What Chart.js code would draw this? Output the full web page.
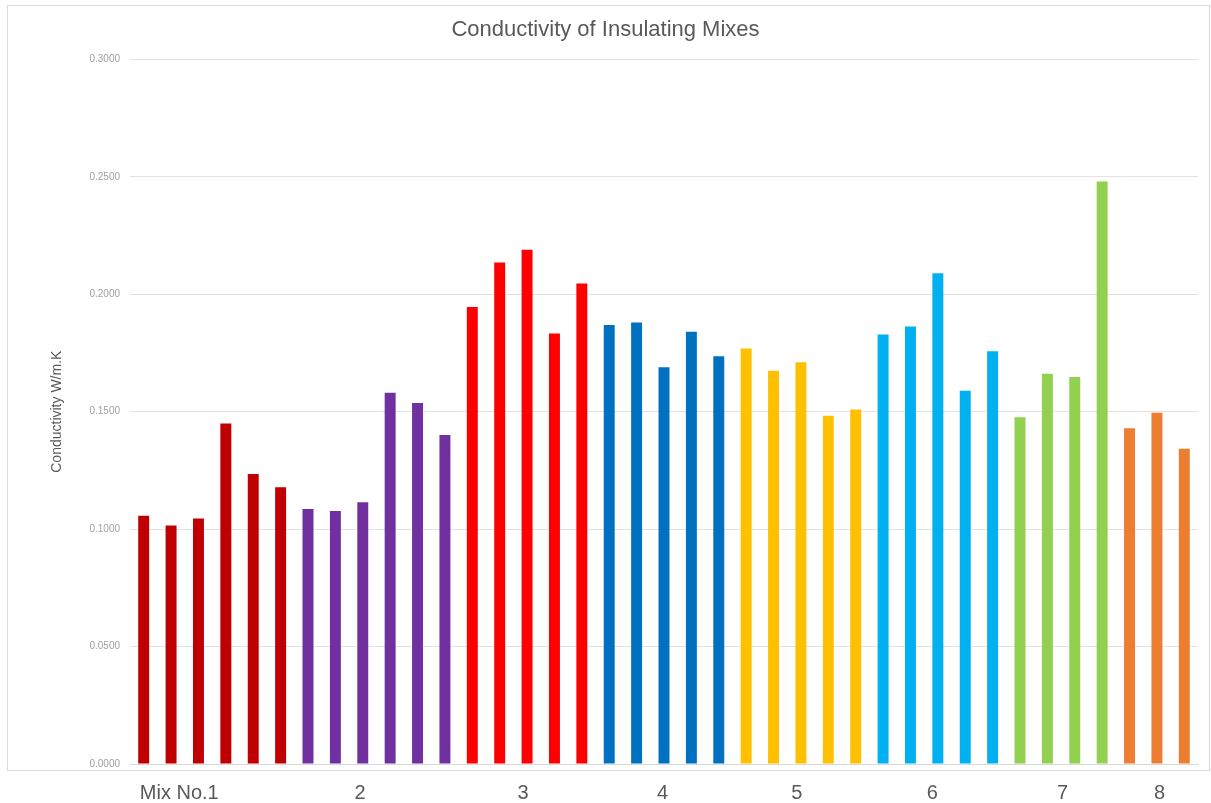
<!DOCTYPE html>
<html>
<head>
<meta charset="utf-8">
<script src="https://cdn.jsdelivr.net/npm/chart.js@4/dist/chart.umd.min.js"></script>
<style>
  html, body { margin: 0; padding: 0; background: #ffffff; }
  #wrap { position: relative; width: 1211px; height: 803px; }
  #frame { position: absolute; left: 7px; top: 5px; width: 1201px; height: 764px; border: 1px solid #d9d9d9; }
  #c { position: absolute; left: 0; top: 0; }
</style>
</head>
<body>
<div id="wrap">
  <div id="frame"></div>
  <canvas id="c" width="1211" height="803"></canvas>
</div>
<script>
// ---- data ----
const groupLabels = ["Mix No.1", "2", "3", "4", "5", "6", "7", "8"];
const mix1 = [0.1057, 0.1015, 0.1045, 0.1450, 0.1235, 0.1178];
const mix2 = [0.1086, 0.1077, 0.1114, 0.1581, 0.1537, 0.1401];
const mix3 = [0.1946, 0.2135, 0.2190, 0.1833, 0.2046];
const mix4 = [0.1869, 0.1880, 0.1689, 0.1840, 0.1736];
const mix5 = [0.1769, 0.1674, 0.1711, 0.1483, 0.1509];
const mix6 = [0.1829, 0.1863, 0.2090, 0.1589, 0.1757];
const mix7 = [0.1476, 0.1662, 0.1648, 0.2480];
const mix8 = [0.1430, 0.1496, 0.1342];
const yTicks = [0, 0.05, 0.10, 0.15, 0.20, 0.25, 0.30];

// ---- styling ----
const groupColors = ["#C00000", "#7030A0", "#FF0000", "#0070C0", "#FFC000", "#00B0F0", "#92D050", "#ED7D31"];
const labelPositions = [1.3, 7.9, 13.85, 18.95, 23.85, 28.8, 33.55, 37.1]; // in bar-slot units

const groups = [mix1, mix2, mix3, mix4, mix5, mix6, mix7, mix8];
const values = [];
const colors = [];
const cats = [];
groups.forEach((g, gi) => {
  g.forEach((v, i) => {
    values.push(v);
    colors.push(groupColors[gi]);
    cats.push(groupLabels[gi] + "-" + (i + 1));
  });
});
const n = values.length;

const FONT = "'Liberation Sans', Arial, sans-serif";

new Chart(document.getElementById('c'), {
  type: 'bar',
  data: {
    labels: cats,
    datasets: [{
      data: values,
      backgroundColor: colors,
      borderWidth: 0,
      barPercentage: 0.4,
      categoryPercentage: 1.0
    }]
  },
  options: {
    responsive: false,
    animation: false,
    layout: { padding: { left: 0, right: 0, top: 0, bottom: 0 } },
    plugins: {
      legend: { display: false },
      tooltip: { enabled: false },
      title: {
        display: true,
        text: "Conductivity of Insulating Mixes",
        color: "#595959",
        font: { family: FONT, size: 22, weight: 'normal' },
        padding: { top: 17, bottom: 16 }
      }
    },
    scales: {
      x: {
        type: 'category',
        display: false,
        offset: true,
        grid: { display: false }
      },
      x2: {
        type: 'linear',
        position: 'bottom',
        min: -0.5,
        max: n - 0.5,
        offset: false,
        grid: { display: false, drawTicks: false, offset: false },
        border: { display: true, color: "#d9d9d9", width: 1 },
        afterBuildTicks: (scale) => {
          scale.ticks = labelPositions.map(v => ({ value: v }));
        },
        afterFit: (scale) => { scale.height = 39; },
        ticks: {
          autoSkip: false,
          maxRotation: 0,
          padding: 17,
          color: "#595959",
          font: { family: FONT, size: 20 },
          callback: (value, index) => groupLabels[index]
        }
      },
      y: {
        min: 0,
        max: 0.3,
        afterBuildTicks: (scale) => {
          scale.ticks = yTicks.map(v => ({ value: v }));
        },
        afterFit: (scale) => { scale.width = 130; },
        grid: { color: "#e3e3e3", drawTicks: false, lineWidth: 1 },
        border: { display: false },
        ticks: {
          padding: 10,
          color: "#a0a0a0",
          font: { family: FONT, size: 10 },
          callback: (v) => Number(v).toFixed(4)
        },
        title: {
          display: true,
          text: "Conductivity W/m.K",
          color: "#595959",
          font: { family: FONT, size: 14 },
          padding: { top: 49, bottom: 0 }
        }
      },
      yRight: {
        type: 'linear',
        position: 'right',
        min: 0,
        max: 0.3,
        grid: { display: false, drawTicks: false },
        border: { display: false },
        ticks: { display: false },
        afterFit: (scale) => { scale.width = 13; }
      }
    }
  }
});
</script>
</body>
</html>
